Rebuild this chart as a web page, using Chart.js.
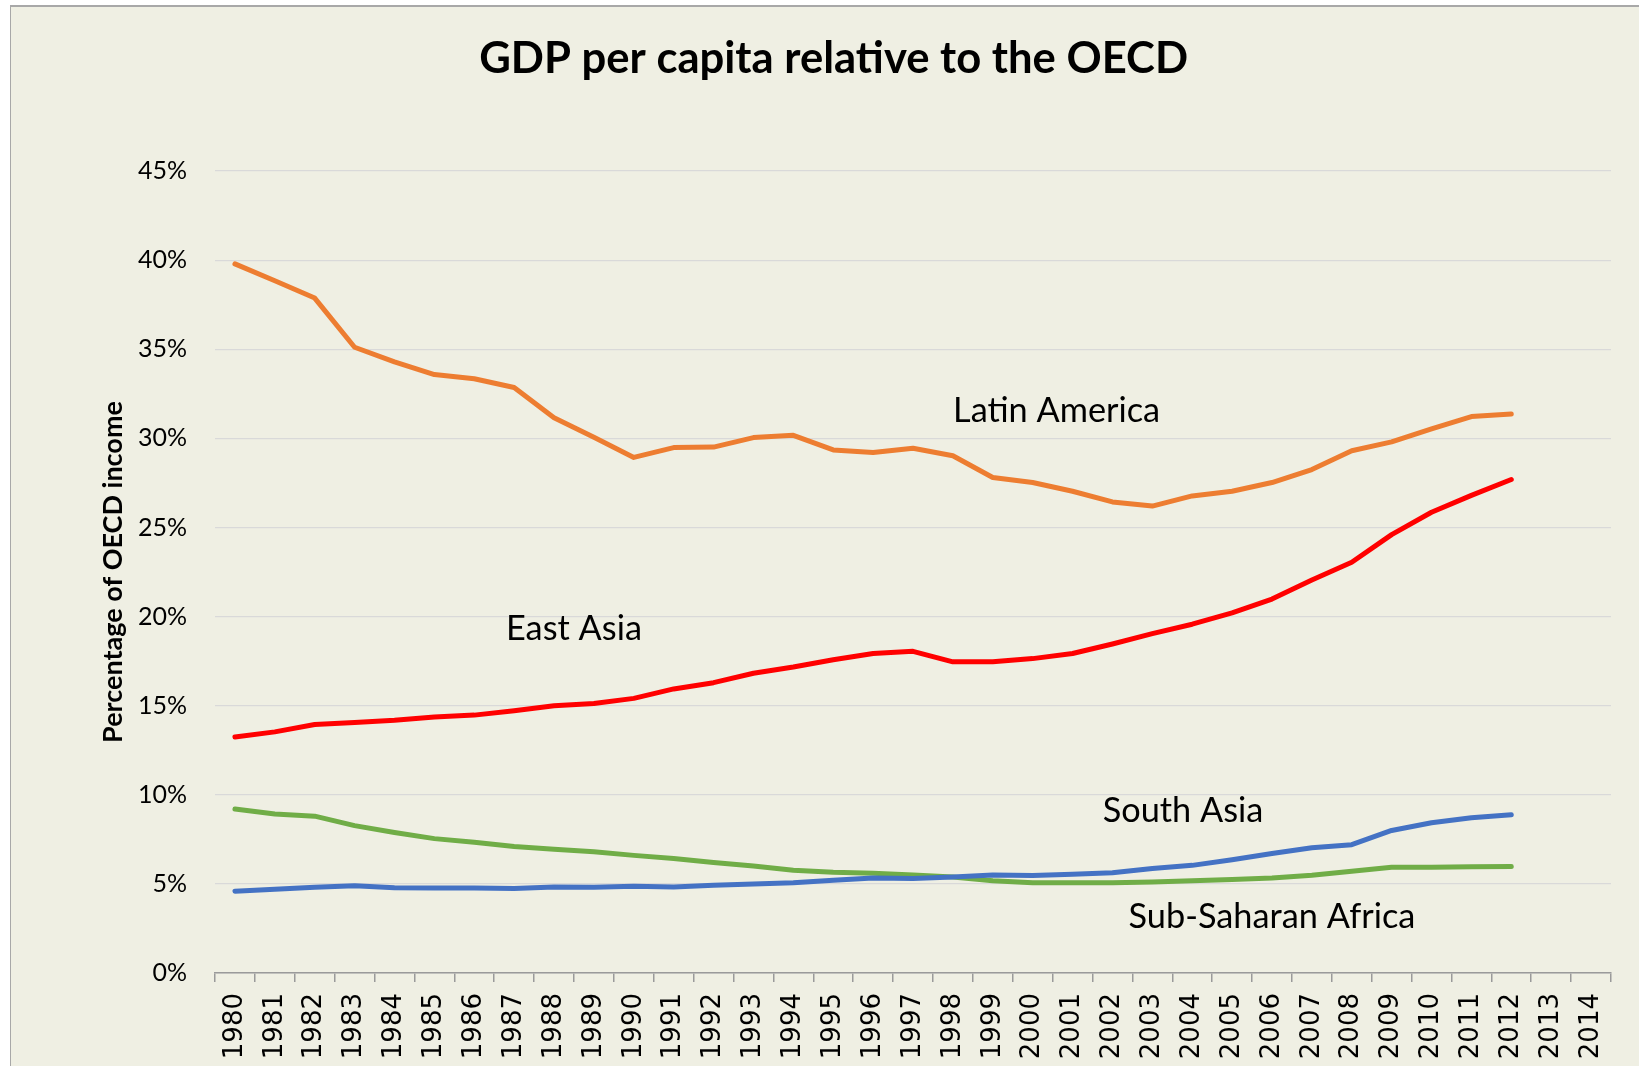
<!DOCTYPE html>
<html>
<head>
<meta charset="utf-8">
<script src="https://cdn.jsdelivr.net/npm/chart.js@4.4.1/dist/chart.umd.min.js"></script>
<style>
  html, body { margin: 0; padding: 0; background: #fff; overflow: hidden; }
  #frame {
    position: absolute; left: 10px; top: 5px; width: 1700px; height: 1100px;
    border-left: 1px solid #a8a8a8; border-top: 2px solid #a8a8a8;
    background: #efefe3;
  }
  #wrap { position: absolute; left: 0; top: 0; width: 1644px; height: 1059px; }
</style>
</head>
<body>
<div id="frame"><div id="wrap"><canvas id="gdp"></canvas></div></div>
<script>
'use strict';

/* ---- data (percent of OECD income per capita) ---------------------------- */
const years = ['1980','1981','1982','1983','1984','1985','1986','1987','1988','1989',
               '1990','1991','1992','1993','1994','1995','1996','1997','1998','1999',
               '2000','2001','2002','2003','2004','2005','2006','2007','2008','2009',
               '2010','2011','2012','2013','2014'];

const latinAmerica = [39.79, 38.84, 37.87, 35.11, 34.29, 33.58, 33.34, 32.85, 31.16, 30.06,
                      28.93, 29.48, 29.51, 30.04, 30.17, 29.35, 29.20, 29.44, 29.02, 27.80,
                      27.52, 27.03, 26.43, 26.20, 26.77, 27.03, 27.52, 28.25, 29.30, 29.80,
                      30.53, 31.22, 31.37];
const eastAsia     = [13.24, 13.53, 13.94, 14.06, 14.18, 14.36, 14.47, 14.71, 15.00, 15.12,
                      15.41, 15.94, 16.29, 16.82, 17.17, 17.58, 17.93, 18.05, 17.46, 17.46,
                      17.64, 17.93, 18.46, 19.04, 19.57, 20.21, 20.98, 22.05, 23.05, 24.60,
                      25.85, 26.80, 27.69];
const southAsia    = [4.59, 4.70, 4.81, 4.90, 4.79, 4.77, 4.77, 4.74, 4.83, 4.81,
                      4.87, 4.83, 4.93, 5.00, 5.07, 5.20, 5.33, 5.30, 5.39, 5.50,
                      5.47, 5.54, 5.62, 5.86, 6.04, 6.36, 6.70, 7.03, 7.20, 8.00,
                      8.43, 8.71, 8.88];
const subSaharan   = [9.20, 8.92, 8.80, 8.27, 7.88, 7.54, 7.33, 7.10, 6.95, 6.80,
                      6.60, 6.43, 6.20, 6.00, 5.77, 5.65, 5.60, 5.50, 5.39, 5.17,
                      5.06, 5.06, 5.06, 5.11, 5.17, 5.24, 5.33, 5.49, 5.71, 5.93,
                      5.94, 5.96, 5.98];

const yMax = 45, yStep = 5;
const chartTitle = 'GDP per capita relative to the OECD';

/* in-chart region names, anchored in data units (category index, percent) */
const regionLabels = [
  { text: 'Latin America',      at: 20.6,  value: 30.9 },
  { text: 'East Asia',          at: 8.5,   value: 18.67 },
  { text: 'South Asia',         at: 23.77, value: 8.46  },
  { text: 'Sub-Saharan Africa', at: 26.0,  value: 2.5   },
];

/* ---- helpers ------------------------------------------------------------- */
const FONT = 'Lato, "Open Sans", sans-serif';
function series(label, data, color){
  return { label, data, borderColor: color, backgroundColor: color, borderWidth: 5,
           pointRadius: 0, tension: 0, borderCapStyle: 'round', borderJoinStyle: 'round' };
}

// title + region names; the title sits a little right of the canvas centre, as in the source
const textLayer = {
  id: 'textLayer',
  afterDatasetsDraw(chart){
    const { ctx, scales: { x, y } } = chart;
    ctx.save();
    ctx.fillStyle = '#000';
    ctx.textAlign = 'center';
    ctx.textBaseline = 'alphabetic';
    ctx.font = 'bold 43.6px ' + FONT;
    ctx.fillText(chartTitle, 822.6, 66.3);
    ctx.font = '34.3px ' + FONT;
    for (const r of regionLabels) ctx.fillText(r.text, x.getPixelForValue(r.at), y.getPixelForValue(r.value));
    ctx.restore();
  }
};

function build(){
  new Chart(document.getElementById('gdp'), {
    type: 'line',
    data: {
      labels: years,
      datasets: [
        series('Latin America', latinAmerica, '#ed7d31'),
        series('East Asia', eastAsia, '#ff0000'),
        series('South Asia', southAsia, '#4472c4'),
        series('Sub-Saharan Africa', subSaharan, '#70ad47'),
      ]
    },
    options: {
      responsive: true, maintainAspectRatio: false, animation: false,
      layout: { padding: { left: 0, right: 44, top: 164, bottom: 0 } },
      plugins: {
        legend: { display: false },
        tooltip: { enabled: false },
        title: { display: false }
      },
      scales: {
        x: {
          offset: true,
          grid: { display: true, drawOnChartArea: false, drawTicks: true, tickLength: 9,
                  offset: true, color: '#9a9a9a', lineWidth: 1.5 },
          border: { display: true, color: '#9a9a9a', width: 1.5 },
          ticks: { autoSkip: false, minRotation: 90, maxRotation: 90, padding: 11, color: '#000',
                   font: { family: '"DejaVu Sans"', size: 26 } },
          afterFit(s){ s.height = 93; }
        },
        y: {
          min: 0, max: yMax,
          grid: { color: '#d9d9d9', lineWidth: 1.2, drawTicks: false },
          border: { display: false },
          ticks: { stepSize: yStep, padding: 28, color: '#000',
                   font: { family: FONT, size: 25 },
                   callback: (v) => v + '%' },
          title: { display: true, text: 'Percentage of OECD income', color: '#000',
                   font: { family: FONT, size: 27, weight: 'bold', lineHeight: 1.2 },
                   padding: { top: 86, bottom: 0 } },
          afterFit(s){ s.width = 204; }
        }
      }
    },
    plugins: [textLayer]
  });
}

Promise.all([
  document.fonts.load('bold 44px Lato'),
  document.fonts.load('34px Lato'),
  document.fonts.load('26px "DejaVu Sans"')
]).then(build, build);
</script>
</body>
</html>
